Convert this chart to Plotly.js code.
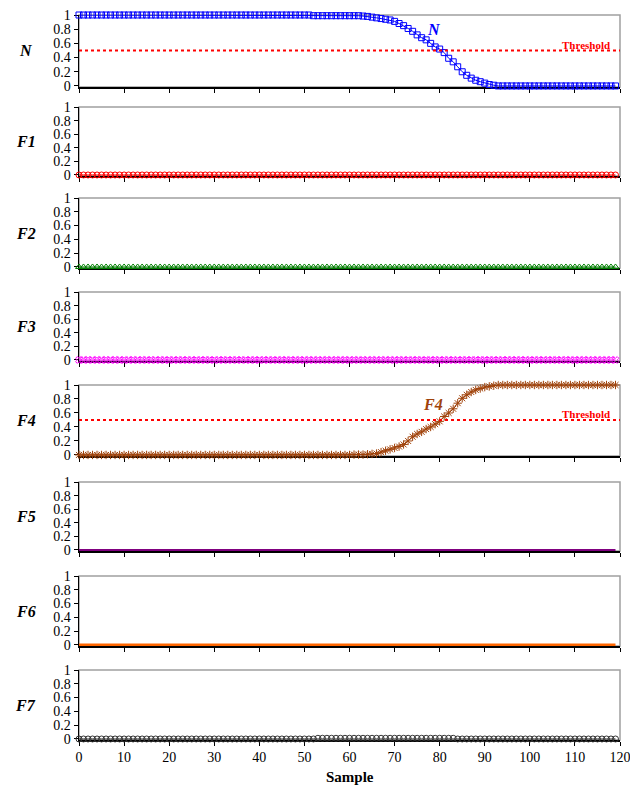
<!DOCTYPE html>
<html><head><meta charset="utf-8">
<script src="https://cdn.plot.ly/plotly-3.0.1.min.js"></script>
<style>body{margin:0;padding:0;background:#fff}#chart{width:630px;height:787px}</style>
</head><body><div id="chart"></div>
<script>
// x values (sample index)
const sample = [0,1,2,3,4,5,6,7,8,9,10,11,12,13,14,15,16,17,18,19,20,21,22,23,24,25,26,27,28,29,30,31,32,33,34,35,36,37,38,39,40,41,42,43,44,45,46,47,48,49,50,51,52,53,54,55,56,57,58,59,60,61,62,63,64,65,66,67,68,69,70,71,72,73,74,75,76,77,78,79,80,81,82,83,84,85,86,87,88,89,90,91,92,93,94,95,96,97,98,99,100,101,102,103,104,105,106,107,108,109,110,111,112,113,114,115,116,117,118,119];

const seriesNames = ["N","F1","F2","F3","F4","F5","F6","F7"];

const valN = [1,1,1,1,1,1,1,1,1,1, 1,1,1,1,1,1,1,1,1,1, 1,1,1,1,1,1,1,1,1,1, 1,1,1,1,1,1,1,1,1,1, 1,1,1,1,1,1,1,1,1,1,
  1,1,0.99,0.99,0.99,0.99,0.99,0.99,0.99,0.99, 0.99,0.99,0.99,0.985,0.98,0.97,0.96,0.95,0.94,0.93,
  0.91,0.88,0.85,0.81,0.77,0.72,0.68,0.65,0.6,0.55, 0.52,0.47,0.39,0.34,0.27,0.2,0.15,0.11,0.08,0.06,
  0.04,0.02,0.01,0,0,0,0,0,0,0, 0,0,0,0,0,0,0,0,0,0, 0,0,0,0,0,0,0,0,0,0];
const valF1 = [0,0,0,0,0,0,0,0,0,0, 0,0,0,0,0,0,0,0,0,0, 0,0,0,0,0,0,0,0,0,0, 0,0,0,0,0,0,0,0,0,0, 0,0,0,0,0,0,0,0,0,0, 0,0,0,0,0,0,0,0,0,0,
  0,0,0,0,0,0,0,0,0,0, 0,0,0,0,0,0,0,0,0,0, 0,0,0,0,0,0,0,0,0,0, 0,0,0,0,0,0,0,0,0,0, 0,0,0,0,0,0,0,0,0,0, 0,0,0,0,0,0,0,0,0,0];
const valF2 = [0,0,0,0,0,0,0,0,0,0, 0,0,0,0,0,0,0,0,0,0, 0,0,0,0,0,0,0,0,0,0, 0,0,0,0,0,0,0,0,0,0, 0,0,0,0,0,0,0,0,0,0, 0,0,0,0,0,0,0,0,0,0,
  0,0,0,0,0,0,0,0,0,0, 0,0,0,0,0,0,0,0,0,0, 0,0,0,0,0,0,0,0,0,0, 0,0,0,0,0,0,0,0,0,0, 0,0,0,0,0,0,0,0,0,0, 0,0,0,0,0,0,0,0,0,0];
const valF3 = [0,0,0,0,0,0,0,0,0,0, 0,0,0,0,0,0,0,0,0,0, 0,0,0,0,0,0,0,0,0,0, 0,0,0,0,0,0,0,0,0,0, 0,0,0,0,0,0,0,0,0,0, 0,0,0,0,0,0,0,0,0,0,
  0,0,0,0,0,0,0,0,0,0, 0,0,0,0,0,0,0,0,0,0, 0,0,0,0,0,0,0,0,0,0, 0,0,0,0,0,0,0,0,0,0, 0,0,0,0,0,0,0,0,0,0, 0,0,0,0,0,0,0,0,0,0];
const valF4 = [0,0,0,0,0,0,0,0,0,0, 0,0,0,0,0,0,0,0,0,0, 0,0,0,0,0,0,0,0,0,0, 0,0,0,0,0,0,0,0,0,0, 0,0,0,0,0,0,0,0,0,0,
  0,0,0,0,0,0,0,0,0,0, 0,0.005,0.005,0.005,0.01,0.015,0.02,0.04,0.06,0.08,
  0.1,0.12,0.15,0.2,0.26,0.3,0.33,0.37,0.4,0.44, 0.48,0.55,0.6,0.66,0.74,0.81,0.86,0.9,0.93,0.95,
  0.97,0.98,0.99,1,1,1,1,1,1,1, 1,1,1,1,1,1,1,1,1,1, 1,1,1,1,1,1,1,1,1,1];
const valF5 = [0,0,0,0,0,0,0,0,0,0, 0,0,0,0,0,0,0,0,0,0, 0,0,0,0,0,0,0,0,0,0, 0,0,0,0,0,0,0,0,0,0, 0,0,0,0,0,0,0,0,0,0, 0,0,0,0,0,0,0,0,0,0,
  0,0,0,0,0,0,0,0,0,0, 0,0,0,0,0,0,0,0,0,0, 0,0,0,0,0,0,0,0,0,0, 0,0,0,0,0,0,0,0,0,0, 0,0,0,0,0,0,0,0,0,0, 0,0,0,0,0,0,0,0,0,0];
const valF6 = [0,0,0,0,0,0,0,0,0,0, 0,0,0,0,0,0,0,0,0,0, 0,0,0,0,0,0,0,0,0,0, 0,0,0,0,0,0,0,0,0,0, 0,0,0,0,0,0,0,0,0,0, 0,0,0,0,0,0,0,0,0,0,
  0,0,0,0,0,0,0,0,0,0, 0,0,0,0,0,0,0,0,0,0, 0,0,0,0,0,0,0,0,0,0, 0,0,0,0,0,0,0,0,0,0, 0,0,0,0,0,0,0,0,0,0, 0,0,0,0,0,0,0,0,0,0];
const valF7 = [0,0,0,0,0,0,0,0,0,0, 0,0,0,0,0,0,0,0,0,0, 0,0,0,0,0,0,0,0,0,0, 0,0,0,0,0,0,0,0,0,0, 0,0,0,0,0,0,0,0,0,0,
  0,0,0,0.01,0.01,0.01,0.01,0.01,0.01,0.01, 0.01,0.01,0.01,0.01,0.01,0.01,0.01,0.01,0.01,0.01,
  0.01,0.01,0.01,0.01,0.01,0.01,0.01,0.01,0.01,0.01, 0.01,0.01,0.01,0.01,0,0,0,0,0,0,
  0,0,0,0,0,0,0,0,0,0, 0,0,0,0,0,0,0,0,0,0, 0,0,0,0,0,0,0,0,0,0];

const thresholdX = [0, 120];
const thresholdY = [0.5, 0.5];
const yTicks = [0, 0.2, 0.4, 0.6, 0.8, 1];
const xTicks = [0,10,20,30,40,50,60,70,80,90,100,110,120];

const values = [valN, valF1, valF2, valF3, valF4, valF5, valF6, valF7];
const colors = ["#0000ff","#ff0000","#008000","#ff00ff","#a0420a","#800080","#ff6600","#333333"];
const symbols = ["square-open","circle-open","triangle-up-open","x-open","asterisk-open","circle","circle","circle-open"];
const msize = [6,6,6,6,7,0,0,6];
const lwidth = [1,1,1,1,1,2,3,1];

// panel pixel positions (top, bottom)
const tops = [15,107,198,292,385,482,576,670];
const bots = [87,176,268,361,456,551,646,740];
const H = 787, T = 15, B = 47, plotH = H - T - B;
const serif = "'Liberation Serif', serif";

const data = [];
const layout = {
  width: 630, height: 787,
  margin: {l: 79, r: 10, t: T, b: B},
  paper_bgcolor: "#fff", plot_bgcolor: "#fff",
  showlegend: false,
  font: {family: serif},
  shapes: [], annotations: []
};

for (let i = 0; i < 8; i++) {
  const k = i === 0 ? "" : String(i + 1);
  const xa = "x" + k, ya = "y" + k;
  data.push({
    x: sample, y: values[i], xaxis: xa, yaxis: ya, type: "scatter",
    mode: msize[i] > 0 ? "lines+markers" : "lines",
    line: {color: colors[i], width: lwidth[i]},
    marker: {symbol: symbols[i], size: msize[i], color: colors[i], line: {color: colors[i], width: 1}},
    cliponaxis: false
  });
  const d0 = (plotH + T - bots[i]) / plotH, d1 = (plotH + T - tops[i]) / plotH;
  layout["xaxis" + k] = {
    domain: [0, 1], anchor: ya, range: [0, 120], tickvals: xTicks,
    showticklabels: i === 7, ticks: "outside", ticklen: 4, tickcolor: "#000",
    showline: true, linecolor: "#000", linewidth: 1.5, showgrid: false, zeroline: false,
    layer: "below traces", ticklabeloverflow: "allow",
    tickfont: {family: serif, size: 14, color: "#000"}
  };
  layout["yaxis" + k] = {
    domain: [Math.max(0, d0), Math.min(1, d1)], anchor: xa, range: [-0.015, 1.0], tickvals: yTicks,
    ticks: "outside", ticklen: 4, tickcolor: "#000",
    showline: true, linecolor: "#000", linewidth: 1.5, showgrid: false, zeroline: false,
    layer: "below traces",
    tickfont: {family: serif, size: 14, color: "#000"}
  };
  layout.shapes.push({type: "rect", xref: xa + " domain", yref: ya + " domain", x0: 0, x1: 1, y0: 0, y1: 1,
    line: {color: "#a0a0a0", width: 1.5}, layer: "below"});
  layout.annotations.push({text: "<b><i>" + seriesNames[i] + "</i></b>", xref: "paper", yref: ya + " domain",
    x: -0.098, y: 0.5, xanchor: "center", yanchor: "middle", showarrow: false,
    font: {family: serif, size: 16, color: "#000"}});
}

// threshold lines on N and F4
[["x","y"],["x5","y5"]].forEach(([xa, ya]) => {
  data.push({x: thresholdX, y: thresholdY, xaxis: xa, yaxis: ya, type: "scatter", mode: "lines",
    line: {color: "#ff0000", width: 2, dash: "dot"}, hoverinfo: "skip"});
  layout.annotations.push({text: "<b>Threshold</b>", xref: xa, yref: ya, x: 112.5, y: 0.58,
    xanchor: "center", yanchor: "middle", showarrow: false,
    font: {family: serif, size: 11, color: "#ff0000"}});
});

layout.annotations.push({text: "<b><i>N</i></b>", xref: "x", yref: "y", x: 78.8, y: 0.8,
  showarrow: false, font: {family: serif, size: 16, color: "#0000ff"}});
layout.annotations.push({text: "<b><i>F4</i></b>", xref: "x5", yref: "y5", x: 78.5, y: 0.72,
  showarrow: false, font: {family: serif, size: 16, color: "#a0420a"}});
layout.annotations.push({text: "<b>Sample</b>", xref: "paper", yref: "paper", x: 0.5, y: -0.051,
  xanchor: "center", yanchor: "middle", showarrow: false,
  font: {family: serif, size: 15, color: "#000"}});

Plotly.newPlot("chart", data, layout, {staticPlot: true, displayModeBar: false});
</script></body></html>
